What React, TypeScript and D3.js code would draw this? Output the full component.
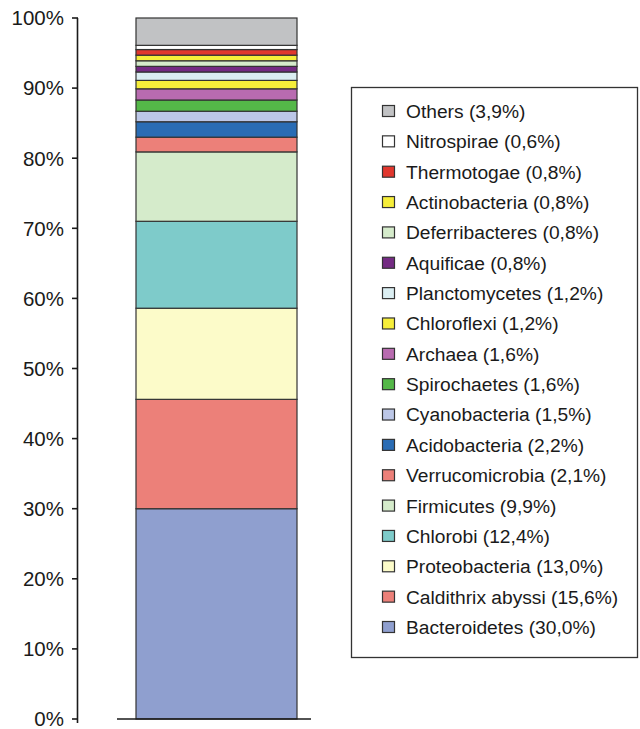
import React from "react";
import * as d3 from "d3";

const phyla = [
  "Bacteroidetes", "Caldithrix abyssi", "Proteobacteria", "Chlorobi", "Firmicutes",
  "Verrucomicrobia", "Acidobacteria", "Cyanobacteria", "Spirochaetes", "Archaea",
  "Chloroflexi", "Planctomycetes", "Aquificae", "Deferribacteres", "Actinobacteria",
  "Thermotogae", "Nitrospirae", "Others",
];
const percents = [30.0, 15.6, 13.0, 12.4, 9.9, 2.1, 2.2, 1.5, 1.6, 1.6, 1.2, 1.2, 0.8, 0.8, 0.8, 0.8, 0.6, 3.9];
const colors = [
  "#8f9fcf", "#ec8079", "#fcfbc9", "#7ecbca", "#d5ebcb",
  "#ec8079", "#2a6cb4", "#bcc7e7", "#54b848", "#b86bb0",
  "#f6ee3a", "#dbeef2", "#742b83", "#d5ebcb", "#f6ee3a",
  "#e1372e", "#ffffff", "#c1c2c4",
];
const yTicks = [0, 10, 20, 30, 40, 50, 60, 70, 80, 90, 100];

const W = 640, H = 729;
const font = "'Liberation Sans', Arial, sans-serif";

export default function App() {
  const y = d3.scaleLinear().domain([0, 100]).range([719, 18]);
  const stackData = [Object.fromEntries(phyla.map((p, i) => [p, percents[i]]))];
  const series = d3.stack<any>().keys(phyla)(stackData as any);
  const bx = 136, bw = 161;
  const legendOrder = phyla.map((p, i) => i).reverse();
  const ly = d3.scalePoint<number>().domain(legendOrder).range([111, 627]);
  const fmt = (v: number) => v.toFixed(1).replace(".", ",");
  return (
    <svg width={W} height={H} style={{ display: "block", position: "absolute", left: 0, top: 0 }}>
      <rect width={W} height={H} fill="#fff" />
      {series.map((s, i) => (
        <rect key={phyla[i]} x={bx} width={bw} y={y(s[0][1])} height={y(s[0][0]) - y(s[0][1])}
          fill={colors[i]} stroke="#333" strokeWidth={1.2} />
      ))}
      <line x1={77.5} x2={77.5} y1={18} y2={723} stroke="#1a1a1a" strokeWidth={1.6} />
      <line x1={117} x2={311} y1={719} y2={719} stroke="#1a1a1a" strokeWidth={1.6} />
      {yTicks.map(t => (
        <g key={t}>
          <line x1={72} x2={78} y1={y(t)} y2={y(t)} stroke="#1a1a1a" strokeWidth={1.6} />
          <text x={64} y={y(t)} dy="0.36em" textAnchor="end" fontFamily={font} fontSize={20.5} fill="#1a1a1a">{t}%</text>
        </g>
      ))}
      <rect x={351.5} y={87.5} width={286} height={570} fill="#fff" stroke="#333" strokeWidth={1.3} />
      {legendOrder.map(i => (
        <g key={phyla[i]}>
          <rect x={382.5} y={ly(i)! - 5.5} width={12} height={11} fill={colors[i]} stroke="#333" strokeWidth={1.2} />
          <text x={406} y={ly(i)!} dy="0.36em" fontFamily={font} fontSize={19.2} fill="#1a1a1a">
            {phyla[i]} ({fmt(percents[i])}%)
          </text>
        </g>
      ))}
    </svg>
  );
}
